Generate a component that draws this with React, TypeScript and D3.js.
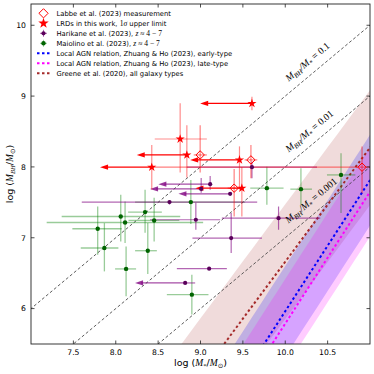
import React from 'react';
import * as d3 from 'd3';

// ---- axes ----
const xDomain = [7, 11];
const yDomain = [5.5, 10.3];
const xTicks = [7.5, 8.0, 8.5, 9.0, 9.5, 10.0, 10.5];
const yTicks = [6, 7, 8, 9, 10];

// M_BH / M_* ratio lines (log offsets) and their labels
const ratioOffsets = [-1, -2, -3];
const ratioLabels = ['0.1', '0.01', '0.001'];

// scaling relations: [slope, x0, y0, sigma]  ->  y = y0 + slope * (x - x0)
const greene = [1.61, 10.477, 7.43, 0.81];
const zhuangEarly = [1.85, 9.75, 5.5, 0.64];
const zhuangLate = [1.86, 9.845, 5.5, 0.63];

// Labbe et al. (2023): x, y, xlo, xhi, ylo, yhi
const labbe = [
  [8.996, 8.169, 8.92, 9.075, 7.92, 8.59],
  [9.595, 8.099, 9.52, 9.67, 7.84, 8.31],
  [10.906, 7.996, 8.42, 11.2, 7.63, 8.29],
  [9.397, 7.70, 9.32, 9.47, 7.30, 7.97],
];

// LRDs, this work: x, y, arrowTo (null = none), xlo, xhi, ylo, yhi
const lrds = [
  [9.607, 8.897, 8.996, 9.607, 9.607, 8.8, 8.99],
  [8.760, 8.394, null, 8.46, 9.075, 7.92, 8.90],
  [8.839, 8.169, 8.248, 8.839, 8.839, 7.85, 8.59],
  [8.425, 7.996, 7.815, 8.425, 8.425, 7.68, 8.31],
  [9.46, 8.099, 8.878, 9.46, 9.46, 7.68, 8.29],
  [9.488, 7.70, 8.94, 9.488, 9.488, 7.30, 8.00],
];

// Harikane et al. (2023): x, y, xlo, xhi, ylo, yhi, arrowTo
const harikane = [
  [8.634, 7.503, 7.599, 9.669, 7.47, 7.53, null],
  [8.945, 7.254, 8.405, 9.232, 7.113, 7.493, null],
  [9.362, 6.996, 8.905, 9.725, 6.785, 7.348, null],
  [9.102, 6.563, 8.721, 9.311, 6.563, 6.563, null],
  [8.819, 6.362, 8.819, 8.937, 6.362, 6.362, 8.228],
  [9.921, 7.277, 9.252, 10.413, 7.113, 7.441, null],
  [9.114, 7.756, 9.114, 9.114, 7.676, 7.873, 8.503],
  [9.008, 7.69, 9.008, 9.008, 7.634, 7.845, 8.405],
  [9.35, 7.62, 9.35, 9.35, 7.62, 7.62, 8.74],
  [9.607, 7.996, 8.839, 10.375, 7.841, 8.075, null],
];

// Maiolino et al. (2023): x, y, xlo, xhi, ylo, yhi
const maiolino = [
  [8.059, 7.30, 7.362, 8.761, 6.948, 7.606],
  [8.346, 7.362, 8.146, 8.544, 7.07, 7.676],
  [8.11, 7.215, 7.185, 9.031, 6.925, 7.511],
  [8.453, 7.244, 8.15, 8.75, 6.948, 7.563],
  [7.787, 7.127, 7.488, 8.071, 6.761, 7.441],
  [7.866, 6.855, 7.587, 8.031, 6.525, 7.207],
  [8.378, 6.817, 8.228, 8.485, 6.489, 7.207],
  [8.122, 6.56, 7.992, 8.24, 6.173, 6.877],
  [8.898, 6.197, 8.603, 9.094, 5.915, 6.479],
  [8.886, 7.503, 8.228, 9.527, 7.193, 7.817],
  [9.783, 7.70, 9.587, 9.98, 7.465, 8.004],
  [10.185, 7.686, 10.06, 10.315, 7.465, 7.982],
  [10.658, 7.887, 10.492, 10.827, 7.348, 8.193],
];

const W = 374, H = 374;
const L = 31, R = 370, T = 4, B = 344;
const sans = 'DejaVu Sans';
const serif = 'Liberation Serif';

const x = d3.scaleLinear().domain(xDomain).range([L, R]);
const y = d3.scaleLinear().domain(yDomain).range([B, T]);

const rel = (p, xv, dy = 0) => p[2] + p[0] * (xv - p[1]) + dy;

const bandPath = (p) => {
  const xs = d3.range(6.5, 11.6, 0.1);
  const up = xs.map(v => [x(v), y(rel(p, v, p[3]))]);
  const lo = xs.slice().reverse().map(v => [x(v), y(rel(p, v, -p[3]))]);
  return d3.line()(up.concat(lo)) + 'Z';
};
const relLine = (p) => d3.line()([6.5, 11.5].map(v => [x(v), y(rel(p, v))]));

const star = d3.symbol(d3.symbolStar, 26);
const diamond = (cx, cy, r) => `M${cx},${cy - r}L${cx + r},${cy}L${cx},${cy + r}L${cx - r},${cy}Z`;
const arrowHead = (xt, yv, color, op = 1) => (
  <path d={`M${xt},${yv}L${xt + 8},${yv - 2.6}L${xt + 8},${yv + 2.6}Z`} fill={color} opacity={op} />
);

// math pieces: [text, italic, subscript, family]
const mathSpans = (pieces, fs) => {
  let level = 0;
  return pieces.map(([t, it, sub, fam], i) => {
    const target = sub ? 1 : 0;
    const dy = (target - level) * fs * 0.22;
    level = target;
    return (
      <tspan key={i} fontFamily={fam || (it ? serif : undefined)} fontStyle={it ? 'italic' : undefined}
        fontSize={sub ? fs * 0.7 : undefined} dy={dy || undefined}>{t}</tspan>
    );
  });
};

export default function App() {
  const angle = -Math.atan((y(0) - y(1)) / (x(1) - x(0))) * 180 / Math.PI;
  return (
    <svg width={W} height={H} style={{ position: 'absolute', left: 0, top: 0, background: '#fff' }}>
      <defs>
        <clipPath id="plot"><rect x={L} y={T} width={R - L} height={B - T} /></clipPath>
      </defs>
      <g clipPath="url(#plot)">
        <path d={bandPath(greene)} fill="#a52a2a" opacity={0.17} />
        <path d={bandPath(zhuangEarly)} fill="#0000ff" opacity={0.2} />
        <path d={bandPath(zhuangLate)} fill="#ff00ff" opacity={0.2} />

        {ratioOffsets.map(o => (
          <line key={o} x1={x(6)} y1={y(6 + o)} x2={x(12)} y2={y(12 + o)}
            stroke="#333" strokeWidth={0.8} strokeDasharray="3,2.2" />
        ))}

        <path d={relLine(greene)} stroke="#a52a2a" strokeWidth={2} strokeDasharray="2.5,2.5" fill="none" />
        <path d={relLine(zhuangEarly)} stroke="#0000ff" strokeWidth={2} strokeDasharray="2.5,2.5" fill="none" />
        <path d={relLine(zhuangLate)} stroke="#ff00ff" strokeWidth={2} strokeDasharray="2.5,2.5" fill="none" />

        {/* Maiolino error bars */}
        {maiolino.map((d, i) => (
          <g key={'me' + i} stroke="green" strokeOpacity={0.4} strokeWidth={1.3}>
            <line x1={x(d[2])} x2={x(d[3])} y1={y(d[1])} y2={y(d[1])} />
            <line x1={x(d[0])} x2={x(d[0])} y1={y(d[4])} y2={y(d[5])} />
          </g>
        ))}

        {/* Harikane error bars + arrows */}
        {harikane.map((d, i) => (
          <g key={'he' + i}>
            <g stroke="purple" strokeOpacity={0.6} strokeWidth={1.2}>
              <line x1={x(d[2])} x2={x(d[3])} y1={y(d[1])} y2={y(d[1])} />
              <line x1={x(d[0])} x2={x(d[0])} y1={y(d[4])} y2={y(d[5])} />
            </g>
            {d[6] != null && (
              <g>
                <line x1={x(d[6]) + 6} x2={x(d[0])} y1={y(d[1])} y2={y(d[1])} stroke="purple" strokeOpacity={0.7} strokeWidth={1.2} />
                {arrowHead(x(d[6]), y(d[1]), 'purple', 0.8)}
              </g>
            )}
          </g>
        ))}

        {/* Labbe error bars */}
        {labbe.map((d, i) => (
          <g key={'le' + i} stroke="red" strokeOpacity={0.5} strokeWidth={1.2}>
            <line x1={x(d[2])} x2={x(d[3])} y1={y(d[1])} y2={y(d[1])} />
            <line x1={x(d[0])} x2={x(d[0])} y1={y(d[4])} y2={y(d[5])} />
          </g>
        ))}

        {/* LRD error bars + arrows */}
        {lrds.map((d, i) => (
          <g key={'re' + i}>
            <g stroke="red" strokeOpacity={0.45} strokeWidth={1.2}>
              <line x1={x(d[3])} x2={x(d[4])} y1={y(d[1])} y2={y(d[1])} />
              <line x1={x(d[0])} x2={x(d[0])} y1={y(d[5])} y2={y(d[6])} />
            </g>
            {d[2] != null && (
              <g>
                <line x1={x(d[2]) + 6} x2={x(d[0])} y1={y(d[1])} y2={y(d[1])} stroke="red" strokeWidth={1.2} />
                {arrowHead(x(d[2]), y(d[1]), 'red')}
              </g>
            )}
          </g>
        ))}

        {maiolino.map((d, i) => (
          <circle key={'mp' + i} cx={x(d[0])} cy={y(d[1])} r={2.2} fill="#006400" />
        ))}
        {harikane.map((d, i) => (
          <circle key={'hp' + i} cx={x(d[0])} cy={y(d[1])} r={2.1} fill="#5a005a" />
        ))}
        {labbe.map((d, i) => (
          <path key={'lp' + i} d={diamond(x(d[0]), y(d[1]), 4.2)} fill="none" stroke="red" strokeWidth={1} />
        ))}
        {lrds.map((d, i) => (
          <path key={'rp' + i} d={star()} transform={`translate(${x(d[0])},${y(d[1])})`} fill="red" />
        ))}
      </g>

      {/* ratio labels */}
      {ratioOffsets.map((o, i) => {
        const xv = 10.04;
        const px = x(xv), py = y(xv + o) - 11.5;
        return (
          <text key={'rl' + i} x={px} y={py} fontSize={9.8} fontFamily={serif}
            transform={`rotate(${angle},${px},${py})`} fill="#000">
            {mathSpans([['M', true], ['BH', true, true], ['/M', true], ['*', false, true], [' = ' + ratioLabels[i], false]], 9.8)}
          </text>
        );
      })}

      {/* frame and ticks */}
      <rect x={L} y={T} width={R - L} height={B - T} fill="none" stroke="#222" strokeWidth={0.9} />
      {xTicks.map(t => (
        <g key={'xt' + t}>
          <line x1={x(t)} x2={x(t)} y1={B} y2={B - 3.5} stroke="#222" strokeWidth={0.8} />
          <line x1={x(t)} x2={x(t)} y1={T} y2={T + 3.5} stroke="#222" strokeWidth={0.8} />
          <text x={x(t)} y={B + 11} fontSize={7.7} fontFamily={sans} textAnchor="middle">{t.toFixed(1)}</text>
        </g>
      ))}
      {yTicks.map(t => (
        <g key={'yt' + t}>
          <line x1={L} x2={L + 3.5} y1={y(t)} y2={y(t)} stroke="#222" strokeWidth={0.8} />
          <line x1={R} x2={R - 3.5} y1={y(t)} y2={y(t)} stroke="#222" strokeWidth={0.8} />
          <text x={L - 5} y={y(t) + 2.8} fontSize={7.7} fontFamily={sans} textAnchor="end">{t}</text>
        </g>
      ))}

      {/* axis labels */}
      <text x={(L + R) / 2} y={366} fontSize={9.5} fontFamily={sans} textAnchor="middle">
        {mathSpans([['log (', false, false, sans], ['M', true], ['*', false, true, serif], ['/', false, false, sans], ['M', true], ['\u2299', false, true, sans], [')', false, false, sans]], 9.5)}
      </text>
      <text transform={`translate(13,${(T + B) / 2}) rotate(-90)`} fontSize={9.5} fontFamily={sans} textAnchor="middle">
        {mathSpans([['log (', false, false, sans], ['M', true], ['BH', true, true], ['/', false, false, sans], ['M', true], ['\u2299', false, true, sans], [')', false, false, sans]], 9.5)}
      </text>

      {/* legend */}
      <g fontFamily={sans} fontSize={6.8}>
        <path d={diamond(43.5, 13.3, 4.6)} fill="none" stroke="red" strokeWidth={1} />
        <text x={56.5} y={15.8}>Labbe et al. (2023) measurement</text>

        <path d={d3.symbol(d3.symbolStar, 34)()} transform="translate(43.5,23.3)" fill="red" />
        <text x={56.5} y={25.8}>LRDs in this work, <tspan fontFamily={serif} fontSize={7.6}>1</tspan><tspan fontFamily={serif} fontStyle="italic" fontSize={7.6}>σ</tspan> upper limit</text>

        <line x1={43.5} x2={43.5} y1={29.8} y2={36.8} stroke="purple" strokeOpacity={0.6} />
        <line x1={40} x2={47} y1={33.3} y2={33.3} stroke="purple" strokeOpacity={0.6} />
        <circle cx={43.5} cy={33.3} r={2.1} fill="#5a005a" />
        <text x={56.5} y={35.8}>Harikane et al. (2023), <tspan fontFamily={serif} fontStyle="italic" fontSize={7.6}>z</tspan><tspan fontFamily={serif} fontSize={7.6}> ≈ 4 − 7</tspan></text>

        <line x1={43.5} x2={43.5} y1={39.8} y2={46.8} stroke="green" strokeOpacity={0.4} />
        <line x1={40} x2={47} y1={43.3} y2={43.3} stroke="green" strokeOpacity={0.4} />
        <circle cx={43.5} cy={43.3} r={2.2} fill="#006400" />
        <text x={56.5} y={45.8}>Maiolino et al. (2023), <tspan fontFamily={serif} fontStyle="italic" fontSize={7.6}>z</tspan><tspan fontFamily={serif} fontSize={7.6}> ≈ 4 − 7</tspan></text>

        <line x1={37} x2={51} y1={53.3} y2={53.3} stroke="#0000ff" strokeWidth={2} strokeDasharray="2.5,2.5" />
        <text x={56.5} y={55.8}>Local AGN relation, Zhuang &amp; Ho (2023), early-type</text>
        <line x1={37} x2={51} y1={63.3} y2={63.3} stroke="#ff00ff" strokeWidth={2} strokeDasharray="2.5,2.5" />
        <text x={56.5} y={65.8}>Local AGN relation, Zhuang &amp; Ho (2023), late-type</text>
        <line x1={37} x2={51} y1={73.3} y2={73.3} stroke="#a52a2a" strokeWidth={2} strokeDasharray="2.5,2.5" />
        <text x={56.5} y={75.8}>Greene et al. (2020), all galaxy types</text>
      </g>
    </svg>
  );
}
